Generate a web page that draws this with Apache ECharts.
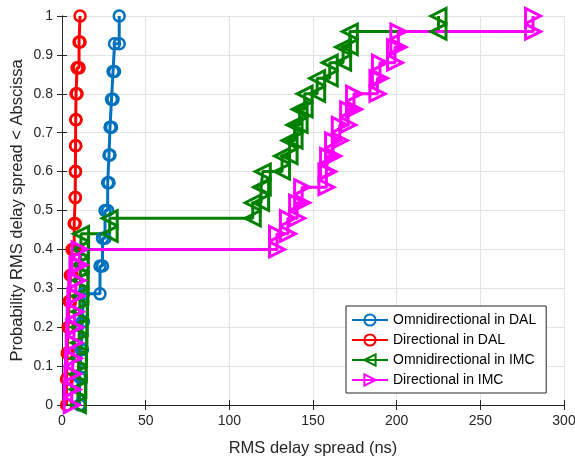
<!DOCTYPE html>
<html>
<head>
<meta charset="utf-8">
<script src="https://cdn.jsdelivr.net/npm/echarts@6/dist/echarts.min.js"></script>
<style>
  html, body { margin: 0; padding: 0; background: #fff; }
  #cdf-chart { width: 575px; height: 458px; }
</style>
</head>
<body>
<div id="cdf-chart"></div>
<script>
  // sorted RMS delay spread samples (ns)
  const omniDAL = [10.5, 11.5, 12.2, 12.8, 22.7, 24.2, 25.7, 27.3, 28.1, 28.7, 29.6, 30.5, 31.4, 34.2];
  const dirDAL = [2.7, 3.1, 3.7, 4.3, 5.0, 6.0, 7.3, 7.9, 8.0, 8.1, 8.2, 8.4, 9.0, 10.2, 10.8];
  const omniIMC = [9.5, 9.8, 10.0, 10.2, 10.4, 10.6, 10.8, 11.0, 11.1, 11.2, 11.4, 28.5,
    114, 119, 120, 131.5, 136, 139, 142, 145, 152.5, 160, 168, 172, 225];
  const dirIMC = [5.8, 6.2, 6.6, 7.0, 7.3, 7.6, 8.0, 8.5, 9.2, 10.5, 128.5, 135, 140.5, 143.5,
    158, 159, 162, 166, 171, 174.5, 188.5, 190, 199, 201, 281.5];

  const seriesNames = ['Omnidirectional in DAL', 'Directional in DAL', 'Omnidirectional in IMC', 'Directional in IMC'];

  // empirical cdf as stairs, every corner is a vertex (and gets a marker)
  function stairs(xs){
    const n = xs.length;
    const pts = [[xs[0], 0]];
    for(let k = 1; k <= n; k++){
      pts.push([xs[k - 1], k / n]);
      if(k < n){
        pts.push([xs[k], k / n]);
      }
    }
    return pts;
  }

  const axisColor = '#262626';
  const gridColor = '#e3e3e3';
  const font = '"Liberation Sans", Arial, Helvetica, sans-serif';

  function makeSeries(name, xs, color, symbol, rotate, size, border){
    return {
      name: name,
      type: 'line',
      data: stairs(xs),
      showSymbol: true,
      showAllSymbol: true,
      symbol: symbol,
      symbolSize: size,
      symbolRotate: rotate,
      lineStyle: {color: color, width: 3},
      itemStyle: {color: 'rgba(255,255,255,0)', borderColor: color, borderWidth: border},
      emphasis: {disabled: true},
      animation: false
    };
  }

  const chart = echarts.init(document.getElementById('cdf-chart'));

  const boxAxis = {
    axisLine: {show: true, lineStyle: {color: axisColor, width: 1}},
    axisTick: {show: true, inside: true, length: 5, lineStyle: {color: axisColor}},
    axisLabel: {show: false},
    splitLine: {show: false}
  };

  chart.setOption({
    animation: false,
    grid: {left: 62, right: 11, top: 16, bottom: 53, containLabel: false, outerBoundsMode: 'none'},
    legend: {
      orient: 'vertical',
      left: 346,
      top: 306,
      width: 200,
      padding: [6, 10, 5, 5],
      itemGap: 4,
      itemWidth: 36,
      itemHeight: 14,
      backgroundColor: '#fff',
      borderColor: axisColor,
      borderWidth: 1,
      borderRadius: 0,
      textStyle: {fontFamily: font, fontSize: 14, color: '#000', lineHeight: 16},
      data: seriesNames
    },
    xAxis: [
      {
        type: 'value', min: 0, max: 300, interval: 50,
        name: 'RMS delay spread (ns)', nameLocation: 'middle', nameGap: 35,
        nameTextStyle: {fontFamily: font, fontSize: 16.5, color: axisColor},
        axisLine: {show: true, onZero: false, lineStyle: {color: axisColor, width: 1}},
        axisTick: {show: true, inside: true, length: 5, lineStyle: {color: axisColor}},
        axisLabel: {fontFamily: font, fontSize: 14, color: axisColor, margin: 9},
        splitLine: {show: true, lineStyle: {color: gridColor, width: 1}}
      },
      Object.assign({type: 'value', position: 'top', min: 0, max: 300, interval: 50}, boxAxis)
    ],
    yAxis: [
      {
        type: 'value', min: 0, max: 1, interval: 0.1,
        name: 'Probability RMS delay spread < Abscissa', nameLocation: 'middle', nameGap: 36,
        nameMoveOverlap: false,
        nameTextStyle: {fontFamily: font, fontSize: 16.5, color: axisColor},
        axisLine: {show: true, onZero: false, lineStyle: {color: axisColor, width: 1}},
        axisTick: {show: true, inside: true, length: 5, lineStyle: {color: axisColor}},
        axisLabel: {fontFamily: font, fontSize: 14, color: axisColor, margin: 9},
        splitLine: {show: true, lineStyle: {color: gridColor, width: 1}}
      },
      Object.assign({type: 'value', position: 'right', min: 0, max: 1, interval: 0.1}, boxAxis)
    ],
    series: [
      makeSeries(seriesNames[0], omniDAL, '#0072BD', 'circle', 0, 11, 2.5),
      makeSeries(seriesNames[1], dirDAL, '#FF0000', 'circle', 0, 11, 2.5),
      makeSeries(seriesNames[2], omniIMC, '#008000', 'triangle', 90, 15, 3),
      makeSeries(seriesNames[3], dirIMC, '#FF00FF', 'triangle', -90, 15, 3)
    ]
  });
</script>
</body>
</html>
